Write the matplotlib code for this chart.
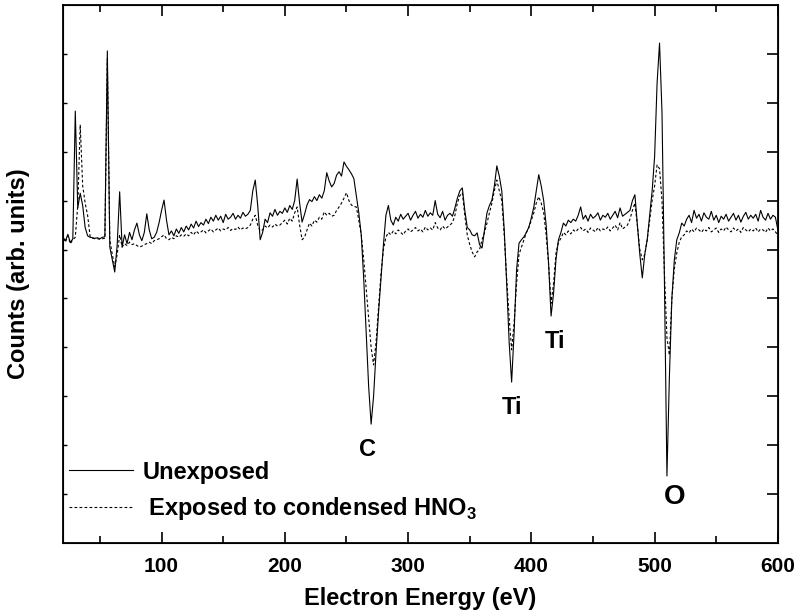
import numpy as np
import matplotlib
matplotlib.use("Agg")
import matplotlib.pyplot as plt

plt.rcParams['font.family'] = ['Liberation Sans', 'DejaVu Sans']
plt.rcParams['font.weight'] = 'bold'
plt.rcParams['mathtext.fontset'] = 'custom'
plt.rcParams['mathtext.rm'] = 'Liberation Sans:bold'
plt.rcParams['mathtext.bf'] = 'Liberation Sans:bold'

# energy axis, 2 eV step from 20 to 600 eV
energy = np.arange(20, 601, 2)

# Unexposed (solid), arb. units
unexposed = [
    6.25, 6.18, 6.31, 6.14, 6.22, 8.83, 6.85, 7.15, 6.90, 6.45,   # 20
    6.28, 6.25, 6.24, 6.23, 6.24, 6.22, 6.25, 6.26, 10.06, 6.05,  # 40
    5.80, 5.54, 6.10, 7.18, 6.05, 6.30, 6.12, 6.35, 6.20, 6.40,   # 60
    6.54, 6.30, 6.18, 6.35, 6.73, 6.40, 6.22, 6.25, 6.35, 6.55,   # 80
    6.80, 7.01, 6.60, 6.30, 6.38, 6.28, 6.42, 6.33, 6.45, 6.36,   # 100
    6.48, 6.40, 6.52, 6.44, 6.58, 6.47, 6.55, 6.50, 6.62, 6.53,   # 120
    6.66, 6.58, 6.70, 6.60, 6.68, 6.55, 6.72, 6.62, 6.66, 6.74,   # 140
    6.62, 6.70, 6.64, 6.76, 6.68, 6.72, 6.80, 7.20, 7.42, 6.90,   # 160
    6.20, 6.35, 6.62, 6.55, 6.75, 6.68, 6.82, 6.70, 6.78, 6.74,   # 180
    6.85, 6.76, 6.90, 6.82, 7.00, 7.44, 6.95, 6.56, 6.72, 6.91,   # 200
    7.02, 6.98, 7.08, 7.00, 7.12, 7.05, 7.20, 7.57, 7.40, 7.28,   # 220
    7.35, 7.52, 7.59, 7.50, 7.79, 7.70, 7.63, 7.55, 7.45, 7.10,   # 240
    6.75, 6.30, 5.40, 4.30, 3.20, 2.43, 3.00, 3.90, 4.70, 5.40,   # 260
    6.10, 6.70, 6.90, 6.60, 6.50, 6.66, 6.58, 6.72, 6.62, 6.68,   # 280
    6.74, 6.60, 6.70, 6.78, 6.64, 6.72, 6.66, 6.80, 6.68, 6.75,   # 300
    6.70, 7.00, 6.72, 6.65, 6.78, 6.60, 6.70, 6.74, 6.68, 6.85,   # 320
    7.05, 7.20, 7.26, 6.80, 6.45, 6.40, 6.30, 6.28, 6.34, 6.10,   # 340
    6.03, 6.40, 6.75, 6.90, 7.01, 7.30, 7.71, 7.50, 7.20, 6.40,   # 360
    5.30, 4.10, 3.29, 4.30, 5.58, 6.13, 6.20, 6.26, 6.35, 6.46,   # 380
    6.65, 6.87, 7.20, 7.53, 7.30, 7.00, 6.50, 5.70, 4.64, 5.10,   # 400
    5.80, 6.20, 6.35, 6.54, 6.48, 6.60, 6.55, 6.62, 6.58, 6.70,   # 420
    6.87, 6.62, 6.70, 6.58, 6.72, 6.64, 6.68, 6.75, 6.60, 6.70,   # 440
    6.66, 6.74, 6.62, 6.70, 6.78, 6.65, 6.85, 6.68, 6.72, 6.76,   # 460
    6.80, 7.00, 7.12, 6.50, 5.90, 5.42, 5.90, 6.20, 6.70, 7.20,   # 480
    7.90, 9.40, 10.22, 8.80, 5.30, 1.37, 3.40, 5.00, 5.79, 6.20,  # 500
    6.34, 6.54, 6.48, 6.62, 6.70, 6.55, 6.80, 6.64, 6.72, 6.58,   # 520
    6.75, 6.66, 6.62, 6.78, 6.60, 6.70, 6.55, 6.68, 6.62, 6.72,   # 540
    6.58, 6.66, 6.74, 6.60, 6.70, 6.56, 6.68, 6.76, 6.62, 6.70,   # 560
    6.64, 6.72, 6.58, 6.80, 6.66, 6.60, 6.74, 6.62, 6.70, 6.66,   # 580
    6.40,                                                         # 600
]

# Exposed to condensed HNO3 (dashed)
exposed = [
    6.22, 6.15, 6.28, 6.12, 6.20, 6.25, 6.90, 8.55, 7.30, 6.95,   # 20
    6.70, 6.27, 6.23, 6.22, 6.22, 6.21, 6.22, 6.23, 9.90, 6.20,   # 40
    5.90, 5.65, 5.90, 6.30, 6.05, 6.12, 6.08, 6.15, 6.10, 6.12,   # 60
    6.08, 6.05, 6.07, 6.10, 6.12, 6.15, 6.12, 6.18, 6.20, 6.22,   # 80
    6.26, 6.30, 6.22, 6.20, 6.25, 6.22, 6.28, 6.25, 6.30, 6.27,   # 100
    6.32, 6.28, 6.35, 6.30, 6.38, 6.33, 6.36, 6.40, 6.34, 6.38,   # 120
    6.42, 6.36, 6.40, 6.44, 6.38, 6.42, 6.40, 6.45, 6.39, 6.43,   # 140
    6.41, 6.46, 6.40, 6.44, 6.42, 6.45, 6.50, 6.62, 6.70, 6.50,   # 160
    6.38, 6.40, 6.48, 6.44, 6.50, 6.46, 6.52, 6.48, 6.50, 6.55,   # 180
    6.60, 6.52, 6.64, 6.58, 6.75, 6.87, 6.50, 6.20, 6.25, 6.40,   # 200
    6.54, 6.48, 6.60, 6.56, 6.66, 6.62, 6.77, 6.70, 6.74, 6.68,   # 220
    6.70, 6.80, 6.87, 6.95, 7.05, 7.16, 7.00, 6.91, 6.88, 6.87,   # 240
    6.60, 6.30, 5.80, 5.20, 4.60, 4.00, 3.64, 4.10, 4.80, 5.50,   # 260
    6.00, 6.25, 6.35, 6.30, 6.38, 6.32, 6.40, 6.35, 6.30, 6.38,   # 280
    6.42, 6.36, 6.40, 6.45, 6.38, 6.42, 6.36, 6.46, 6.40, 6.44,   # 300
    6.40, 6.55, 6.44, 6.40, 6.48, 6.42, 6.46, 6.50, 6.55, 6.70,   # 320
    6.95, 7.10, 7.16, 6.70, 6.30, 6.10, 5.95, 5.85, 5.95, 6.00,   # 340
    6.20, 6.35, 6.54, 6.75, 6.95, 7.20, 7.42, 7.20, 7.00, 6.30,   # 360
    5.40, 4.60, 3.95, 4.50, 5.30, 5.90, 6.05, 6.20, 6.35, 6.45,   # 380
    6.60, 6.75, 6.95, 7.08, 6.95, 6.75, 6.30, 5.70, 4.90, 5.30,   # 400
    5.93, 6.15, 6.23, 6.35, 6.30, 6.38, 6.32, 6.40, 6.36, 6.42,   # 420
    6.45, 6.38, 6.42, 6.35, 6.44, 6.40, 6.36, 6.45, 6.38, 6.42,   # 440
    6.40, 6.46, 6.38, 6.44, 6.50, 6.40, 6.55, 6.42, 6.46, 6.50,   # 460
    6.62, 6.80, 6.95, 6.50, 6.00, 5.79, 5.90, 6.20, 6.60, 7.00,   # 480
    7.30, 7.73, 7.65, 7.00, 5.50, 4.20, 3.84, 5.00, 5.60, 5.93,   # 500
    6.15, 6.26, 6.30, 6.38, 6.34, 6.42, 6.36, 6.44, 6.40, 6.35,   # 520
    6.42, 6.38, 6.45, 6.36, 6.40, 6.44, 6.35, 6.42, 6.38, 6.46,   # 540
    6.40, 6.36, 6.44, 6.38, 6.42, 6.35, 6.45, 6.40, 6.36, 6.42,   # 560
    6.38, 6.44, 6.36, 6.42, 6.40, 6.35, 6.44, 6.38, 6.42, 6.36,   # 580
    6.30,                                                         # 600
]

# peak labels: (text, energy, y)
peak_labels = ["C", "Ti", "Ti", "O"]
peak_x = [267, 384, 419, 516]
peak_y = [1.92, 2.76, 4.12, 0.94]
peak_size = [17, 17, 17, 20]

fig = plt.figure(figsize=(7.97, 6.16), dpi=100)
ax = fig.add_axes([0.079, 0.1185, 0.897, 0.8735])

ax.plot(energy, unexposed, color='black', lw=0.8, label='Unexposed')
ax.plot(energy, exposed, color='black', lw=0.8, ls=(0, (2.5, 2)),
        label=' Exposed to condensed HNO$_3$')

for t, x, y, s in zip(peak_labels, peak_x, peak_y, peak_size):
    ax.text(x, y, t, fontsize=s, fontweight='bold', ha='center', va='center')

ax.set_xlim(20, 600)
ax.set_ylim(0, 11)
ax.set_xticks([100, 200, 300, 400, 500, 600])
ax.set_xticks(np.arange(50, 600, 100), minor=True)
ax.set_yticks(np.arange(1, 11))
ax.set_yticklabels([])
ax.tick_params(axis='x', which='major', direction='in', top=True, length=8,
               width=1.2, labelsize=15, pad=10)
ax.tick_params(axis='x', which='minor', direction='in', top=True, length=5, width=1.2)
ax.tick_params(axis='y', direction='in', length=3, width=1.0)
for sp in ax.spines.values():
    sp.set_linewidth(1.3)

# longer ticks on the right side
ax2 = ax.twinx()
ax2.set_ylim(0, 11)
ax2.set_yticks(np.arange(1, 11))
ax2.set_yticklabels([])
ax2.tick_params(axis='y', direction='in', length=8, width=1.2)

ax.set_xlabel('Electron Energy (eV)', fontsize=17, fontweight='bold', labelpad=8)
ax.set_ylabel('Counts (arb. units)', fontsize=17, fontweight='bold', labelpad=20)

ax.legend(loc='lower left', bbox_to_anchor=(-0.011, 0.012), frameon=False,
          prop={'weight': 'bold', 'size': 17}, handlelength=2.7,
          handletextpad=0.4, labelspacing=0.5, borderpad=0.5, borderaxespad=0.1)

fig.savefig('out.png', dpi=100)
